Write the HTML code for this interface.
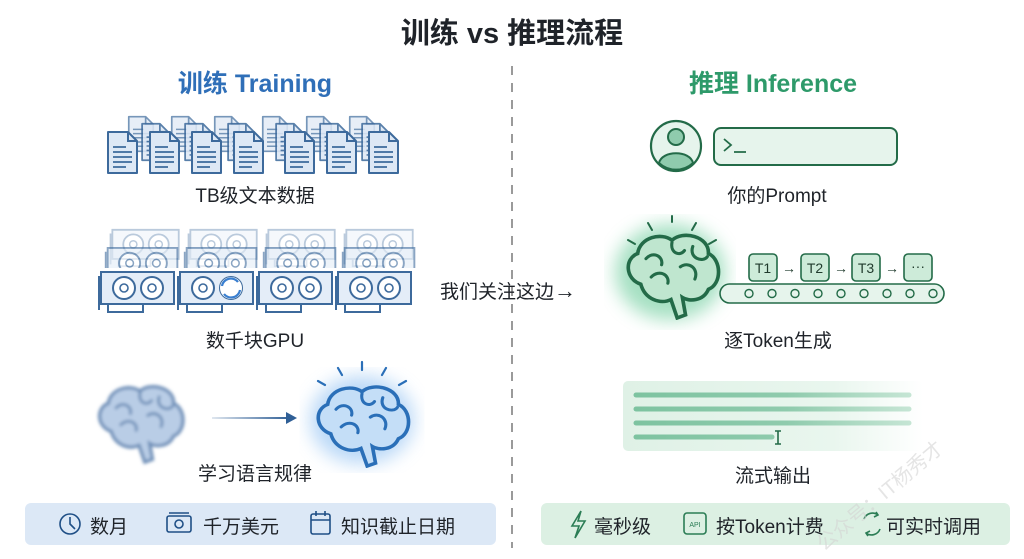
<!DOCTYPE html>
<html><head><meta charset="utf-8"><style>
html,body{margin:0;padding:0;background:#fff;}
body{width:1024px;height:559px;overflow:hidden;position:relative;font-family:"Liberation Sans","Noto Sans CJK SC",sans-serif;}
.t{position:absolute;white-space:nowrap;color:#1f2329;}
</style></head><body>
<svg width="1024" height="559" style="position:absolute;left:0;top:0">
<defs>
<filter id="blur2"><feGaussianBlur stdDeviation="1.6"/></filter>
<filter id="glow"><feGaussianBlur stdDeviation="9"/></filter>
<symbol id="brain" viewBox="0 0 100 90" preserveAspectRatio="none">
<path d="M20,55 C5,50 4,30 17,25 C19,9 40,4 50,12 C60,2 86,8 85,25 C98,31 98,55 85,60 C80,72 66,72 60,68 L63,85 L55,88 L49,70 C39,75 24,70 20,55 Z" stroke-width="3.5"/>
<path d="M25,30 C32,22 42,28 40,36 M50,14 C48,25 58,28 62,22 M70,18 C66,30 80,34 84,28 M30,48 C38,40 48,46 46,54 M58,38 C66,32 76,40 72,50 M22,40 C26,44 30,40 M40,60 C48,56 56,62 62,56" fill="none" stroke-width="3" stroke-linecap="round"/>
</symbol>
<symbol id="doc" viewBox="0 0 33 45">
<path d="M2,2 H22 L31,11 V43 H2 Z" fill="#dde8f5" stroke="#3d6a9c" stroke-width="2" stroke-linejoin="round"/>
<path d="M22,2 V11 H31" fill="none" stroke="#3d6a9c" stroke-width="2"/>
<path d="M7,17 H20 M7,22 H26 M7,27 H26 M7,32 H26 M7,37 H20" stroke="#3d6a9c" stroke-width="1.8"/>
</symbol>
<symbol id="gpu" viewBox="0 0 80 44">
<path d="M3,2 H76 V34 H3 Z" fill="#e4edf8" stroke="#3d6a9c" stroke-width="2"/>
<path d="M1,6 V40 M10,34 V42 H45 V34" fill="none" stroke="#3d6a9c" stroke-width="2"/>
<circle cx="26" cy="18" r="11" fill="#fff" stroke="#3d6a9c" stroke-width="2"/>
<circle cx="26" cy="18" r="4" fill="none" stroke="#3d6a9c" stroke-width="1.6"/>
<circle cx="54" cy="18" r="11" fill="#fff" stroke="#3d6a9c" stroke-width="2"/>
<circle cx="54" cy="18" r="4" fill="none" stroke="#3d6a9c" stroke-width="1.6"/>
</symbol>
<linearGradient id="arr" gradientUnits="userSpaceOnUse" x1="212" y1="0" x2="290" y2="0"><stop offset="0" stop-color="#2f5f96" stop-opacity="0.15"/><stop offset="1" stop-color="#2f5f96"/></linearGradient>
<linearGradient id="sg" x1="0" x2="1"><stop offset="0" stop-color="#dff1e6"/><stop offset="0.7" stop-color="#e9f6ee"/><stop offset="1" stop-color="#fff"/></linearGradient>
<linearGradient id="lg" gradientUnits="userSpaceOnUse" x1="636" y1="0" x2="910" y2="0"><stop offset="0" stop-color="#7dc3a0"/><stop offset="0.55" stop-color="#8fcbad"/><stop offset="1" stop-color="#c5e5d4"/></linearGradient>
</defs>

<line x1="512" y1="66" x2="512" y2="548" stroke="#9a9a9a" stroke-width="2" stroke-dasharray="9,8"/>

<g opacity="0.7">
<use href="#doc" x="127" y="115" width="28" height="38"/><use href="#doc" x="170" y="115" width="28" height="38"/><use href="#doc" x="213" y="115" width="28" height="38"/><use href="#doc" x="261" y="115" width="28" height="38"/><use href="#doc" x="305" y="115" width="28" height="38"/><use href="#doc" x="348" y="115" width="28" height="38"/>
</g>
<g opacity="0.85">
<use href="#doc" x="140" y="122" width="30" height="40"/><use href="#doc" x="183" y="122" width="30" height="40"/><use href="#doc" x="226" y="122" width="30" height="40"/><use href="#doc" x="274" y="122" width="30" height="40"/><use href="#doc" x="318" y="122" width="30" height="40"/><use href="#doc" x="360" y="122" width="30" height="40"/>
</g>
<use href="#doc" x="106" y="130" width="33" height="45"/><use href="#doc" x="148" y="130" width="33" height="45"/><use href="#doc" x="190" y="130" width="33" height="45"/><use href="#doc" x="232" y="130" width="33" height="45"/><use href="#doc" x="283" y="130" width="33" height="45"/><use href="#doc" x="325" y="130" width="33" height="45"/><use href="#doc" x="367" y="130" width="33" height="45"/>

<g opacity="0.35"><use href="#gpu" x="108" y="228" width="76" height="40"/><use href="#gpu" x="186" y="228" width="76" height="40"/><use href="#gpu" x="264" y="228" width="76" height="40"/><use href="#gpu" x="342" y="228" width="76" height="40"/></g>
<g opacity="0.6"><use href="#gpu" x="104" y="246" width="78" height="42"/><use href="#gpu" x="183" y="246" width="78" height="42"/><use href="#gpu" x="262" y="246" width="78" height="42"/><use href="#gpu" x="341" y="246" width="78" height="42"/></g>
<rect x="98" y="268" width="322" height="50" fill="#fff"/>
<use href="#gpu" x="98" y="270" width="80" height="44"/><use href="#gpu" x="177" y="270" width="80" height="44"/><use href="#gpu" x="256" y="270" width="80" height="44"/><use href="#gpu" x="335" y="270" width="80" height="44"/>
<circle cx="231" cy="288" r="11" fill="#fff"/>
<path d="M222,286 A9,9 0 0 1 238,282 M240,290 A9,9 0 0 1 224,294" fill="none" stroke="#3a7fd0" stroke-width="2.2"/>

<use href="#brain" x="92" y="380" width="96" height="84" fill="#b9cde6" stroke="#6e8fb8" filter="url(#blur2)"/>
<line x1="212" y1="418" x2="288" y2="418" stroke="url(#arr)" stroke-width="2"/>
<path d="M286,412 L297,418 L286,424 Z" fill="#2f5f96"/>
<ellipse cx="362" cy="420" rx="52" ry="44" fill="#a9cff5" filter="url(#glow)" opacity="0.8"/>
<use href="#brain" x="310" y="380" width="104" height="88" fill="#c4def7" stroke="#2a6fb8"/>
<path d="M362,362 V370 M338,368 L342,375 M386,368 L382,375 M318,381 L325,385 M406,381 L399,385" stroke="#2a6fb8" stroke-width="2.2" stroke-linecap="round"/>

<circle cx="676" cy="146" r="25" fill="#e6f4ec" stroke="#236b48" stroke-width="2.2"/>
<circle cx="676" cy="137" r="8" fill="#8fcbad" stroke="#236b48" stroke-width="2"/>
<path d="M659,163 C662,150 690,150 693,163 A25,25 0 0 1 659,163 Z" fill="#8fcbad" stroke="#236b48" stroke-width="2"/>
<rect x="714" y="128" width="183" height="37" rx="7" fill="#e6f4ec" stroke="#236b48" stroke-width="2"/>
<path d="M724,139 L731,145 L724,151 M734,152 H746" fill="none" stroke="#236b48" stroke-width="1.8"/>

<ellipse cx="670" cy="272" rx="55" ry="48" fill="#7fd3a8" filter="url(#glow)" opacity="0.7"/>
<use href="#brain" x="620" y="228" width="104" height="92" fill="#bfe6cf" stroke="#236b48"/>
<path d="M672,216 V222 M648,223 L652,230 M696,223 L692,230 M628,240 L635,244 M716,240 L709,244" stroke="#236b48" stroke-width="2" stroke-linecap="round"/>
<rect x="720" y="284" width="224" height="19" rx="9.5" fill="#e6f4ec" stroke="#236b48" stroke-width="1.6"/>
<g fill="none" stroke="#236b48" stroke-width="1.4">
<circle cx="749" cy="293.5" r="4"/><circle cx="772" cy="293.5" r="4"/><circle cx="795" cy="293.5" r="4"/><circle cx="818" cy="293.5" r="4"/><circle cx="841" cy="293.5" r="4"/><circle cx="864" cy="293.5" r="4"/><circle cx="887" cy="293.5" r="4"/><circle cx="910" cy="293.5" r="4"/><circle cx="933" cy="293.5" r="4"/>
</g>
<g fill="#cdebd9" stroke="#236b48" stroke-width="1.6">
<rect x="749" y="254" width="28" height="27" rx="4"/><rect x="801" y="254" width="28" height="27" rx="4"/><rect x="852" y="254" width="28" height="27" rx="4"/><rect x="904" y="254" width="28" height="27" rx="4"/>
</g>
<g font-family="Liberation Sans,sans-serif" font-size="14" fill="#1f3a2c" text-anchor="middle">
<text x="763" y="273">T1</text><text x="815" y="273">T2</text><text x="866" y="273">T3</text><text x="918" y="271">···</text>
<text x="789" y="273">→</text><text x="841" y="273">→</text><text x="892" y="273">→</text>
</g>

<rect x="623" y="381" width="300" height="70" rx="5" fill="url(#sg)"/>
<g stroke="url(#lg)" stroke-width="5" stroke-linecap="round">
<line x1="636" y1="395" x2="909" y2="395"/><line x1="636" y1="409" x2="909" y2="409"/><line x1="636" y1="423" x2="909" y2="423"/><line x1="636" y1="437" x2="772" y2="437"/>
</g>
<path d="M775,431 H781 M778,431 V444 M775,444 H781" stroke="#236b48" stroke-width="1.6"/>

<rect x="25" y="503" width="471" height="42" rx="6" fill="#dce8f6"/>
<rect x="541" y="503" width="469" height="42" rx="6" fill="#dcf0e3"/>
<g fill="none" stroke="#1f4f86" stroke-width="1.6">
<circle cx="70" cy="524" r="10"/><path d="M70,517 V524 L75,529"/>
<rect x="167" y="516" width="24" height="16" rx="2"/><circle cx="179" cy="524" r="4"/><path d="M169,513 H189"/>
<rect x="311" y="514" width="19" height="20" rx="2"/><path d="M311,520 H330 M316,511 V516 M325,511 V516"/>
</g>
<g fill="none" stroke="#2b7d55" stroke-width="1.6">
<path d="M581,511 L572,526 H579 L575,538 L585,521 H578 Z"/>
<rect x="684" y="513" width="22" height="21" rx="3"/>
<path d="M864,519 A9,9 0 0 1 878,515 M880,529 A9,9 0 0 1 866,533 M876,512 L878,515 L874,517 M868,536 L866,533 L870,531"/>
</g>
<text x="695" y="527" font-size="7" fill="#2b7d55" text-anchor="middle" font-family="Liberation Sans,sans-serif">API</text>
</svg>

<div class="t" style="left:0;width:1024px;text-align:center;top:10px;font-size:29px;font-weight:bold;">训练 vs 推理流程</div>
<div class="t" style="left:130px;width:250px;text-align:center;top:64px;font-size:25px;font-weight:bold;color:#2f6fb8;">训练 Training</div>
<div class="t" style="left:648px;width:250px;text-align:center;top:64px;font-size:25px;font-weight:bold;color:#2e9a6a;">推理 Inference</div>
<div class="t" style="left:150px;width:210px;text-align:center;top:181px;font-size:19px;">TB级文本数据</div>
<div class="t" style="left:150px;width:210px;text-align:center;top:326px;font-size:19px;">数千块GPU</div>
<div class="t" style="left:150px;width:210px;text-align:center;top:459px;font-size:19px;">学习语言规律</div>
<div class="t" style="left:440px;top:277px;font-size:19px;">我们关注这边<span style="font-size:22px;font-weight:bold;">→</span></div>
<div class="t" style="left:672px;width:210px;text-align:center;top:181px;font-size:19px;">你的Prompt</div>
<div class="t" style="left:673px;width:210px;text-align:center;top:326px;font-size:19px;">逐Token生成</div>
<div class="t" style="left:668px;width:210px;text-align:center;top:461px;font-size:19px;">流式输出</div>
<div class="t" style="left:90px;top:512px;font-size:19px;">数月</div>
<div class="t" style="left:203px;top:512px;font-size:19px;">千万美元</div>
<div class="t" style="left:341px;top:512px;font-size:19px;">知识截止日期</div>
<div class="t" style="left:594px;top:512px;font-size:19px;">毫秒级</div>
<div class="t" style="left:716px;top:512px;font-size:19px;">按Token计费</div>
<div class="t" style="left:886px;top:512px;font-size:19px;">可实时调用</div>
<div class="t" style="left:800px;top:480px;font-size:20px;color:#d4d4d4;transform:rotate(-40deg);opacity:0.6;">公众号：IT杨秀才</div>
</body></html>
